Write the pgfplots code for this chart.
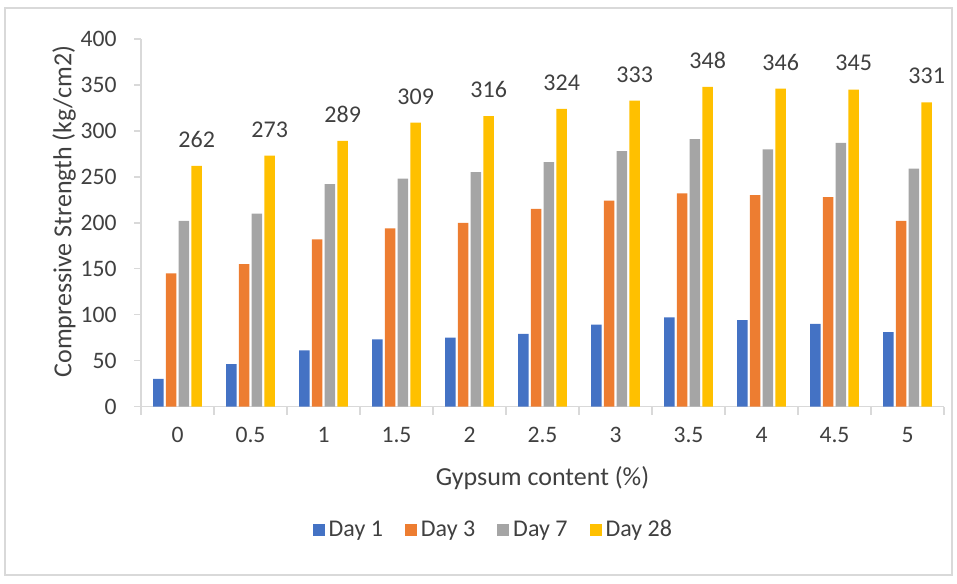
\documentclass[border=0pt]{standalone}
\usepackage{fontspec}
\setmainfont{Carlito}
\usepackage{pgfplots}
\pgfplotsset{compat=1.18}
\definecolor{cA}{HTML}{4472C4}
\definecolor{cB}{HTML}{ED7D31}
\definecolor{cC}{HTML}{A5A5A5}
\definecolor{cD}{HTML}{FFC000}
\definecolor{axgray}{HTML}{D9D9D9}
\definecolor{txt}{HTML}{404040}
\begin{document}
\begin{tikzpicture}[x=1pt,y=1pt]
\path[use as bounding box] (0,0) rectangle (478.5,-291.5);
\draw[axgray, line width=0.6pt] (2.5,-4) rectangle (476,-287.5);
\begin{axis}[
  at={(70.5pt,-203.25pt)}, anchor=south west,
  scale only axis, width=401.5pt, height=183.75pt,
  ybar=1.15pt, bar width=5.25pt,
  xmin=-0.5, xmax=10.5, ymin=0, ymax=400,
  ytick={0,50,...,400},
  xtick={0,...,10},
  xticklabels={0,0.5,1,1.5,2,2.5,3,3.5,4,4.5,5},
  axis lines*=left,
  axis line style={axgray, line width=0.75pt},
  tick align=outside,
  x tick style={draw=none},
  y tick style={axgray, line width=0.75pt},
  major tick length=3.5pt,
  extra x ticks={-0.5,0.5,...,10.5},
  extra x tick labels={},
  extra x tick style={x tick style={draw=axgray, line width=0.75pt}, major tick length=4pt},
  /pgf/number format/assume math mode=true,
  ticklabel style={font=\fontsize{11.8}{13}\selectfont, text=txt},
  xticklabel style={anchor=base, inner sep=0pt, yshift=-14.4pt},
  yticklabel style={anchor=east, inner sep=0pt, xshift=-8.5pt},
  xlabel={Gypsum content (\%)},
  ylabel={Compressive Strength (kg/cm2)},
  label style={font=\fontsize{13}{15}\selectfont, text=txt},
  xlabel style={at={(axis description cs:0.5,0)}, anchor=center, yshift=-35.75pt},
  ylabel style={at={(axis description cs:0,0.53)}, anchor=center, yshift=38.5pt},
  legend columns=4,
  legend style={at={(axis description cs:0.44,-0.336)}, anchor=center, draw=none,
    font=\fontsize{12}{14}\selectfont, text=txt,
    /tikz/every even column/.append style={column sep=9pt}},
  legend image code/.code={\fill[#1] (0pt,-3pt) rectangle (6pt,3pt);},
  clip=false,
]
\addplot[fill=cA, draw=none] coordinates {(0,30) (1,46) (2,61) (3,73) (4,75) (5,79) (6,89) (7,97) (8,94) (9,90) (10,81)};
\addplot[fill=cB, draw=none] coordinates {(0,145) (1,155) (2,182) (3,194) (4,200) (5,215) (6,224) (7,232) (8,230) (9,228) (10,202)};
\addplot[fill=cC, draw=none] coordinates {(0,202) (1,210) (2,242) (3,248) (4,255) (5,266) (6,278) (7,291) (8,280) (9,287) (10,259)};
\addplot[fill=cD, draw=none, nodes near coords,
  every node near coord/.append style={font=\fontsize{12}{14}\selectfont, text=txt, anchor=south, inner sep=0pt, yshift=9pt}]
  coordinates {(0,262) (1,273) (2,289) (3,309) (4,316) (5,324) (6,333) (7,348) (8,346) (9,345) (10,331)};
\legend{Day 1, Day 3, Day 7, Day 28}
\end{axis}
\end{tikzpicture}
\end{document}
